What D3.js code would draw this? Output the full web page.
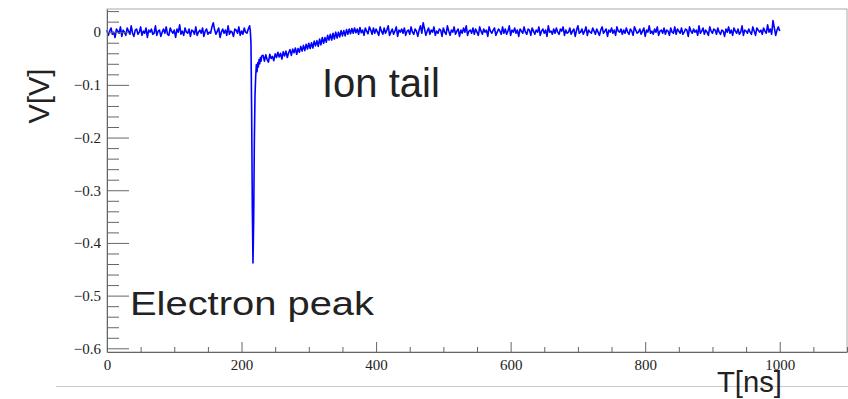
<!DOCTYPE html>
<html>
<head>
  <meta charset="UTF-8">
  <style>
    body { margin: 0; background: #fff; }
    svg { display: block; }
    .note { font-family: "Liberation Sans", Arial, sans-serif; fill: #222; }
  </style>
</head>
<body>
<svg id="chart"></svg>
<script src="https://cdnjs.cloudflare.com/ajax/libs/d3/7.8.5/d3.min.js"></script>
<script>
// signal samples, values in mV
// baseline before the pulse, one sample every 2 ns from t = 0
let preStep = 2;
let preV = [
  4,-6,2,8,-4,0,-10,6,2,-2,
  10,-8,4,0,-6,8,2,-4,12,-2,
  -8,4,6,-4,0,10,-6,2,-2,8,
  -10,4,0,6,-4,-2,12,-6,2,4,
  -8,0,6,-2,10,-4,-6,8,2,-2,
  4,-10,6,0,14,-4,2,-6,8,0,
  -2,6,-8,4,2,-4,10,-6,0,4,
  -2,8,-8,2,6,-4,0,-2,10,18,
  4,-4,2,8,-10,0,6,-2,4,-6,
  12,-4,2,0,-8,6,4,-2,10,-6,
  2,-4,8,0,-2,6,12
];

// electron peak, 1 ns samples
let pulseT = [213,214,215,216,217,218,219,220,221,222,223,224,225,226,227,228,229,230];
let pulseV = [3,-20,-150,-330,-438,-360,-210,-120,-85,-62,-75,-58,-66,-52,-60,-48,-55,-45];

// ion tail and baseline after, every 2 ns from t = 232
let tailT0 = 232, tailStep = 2;
let tailV = [
  -44,-55,-43,-52,-57,-42,-50,-46,-54,-41,
  -48,-38,-47,-40,-51,-37,-45,-36,-48,-39,
  -33,-44,-32,-39,-30,-42,-31,-38,-27,-36,
  -25,-35,-23,-32,-21,-31,-20,-30,-17,-26,
  -16,-27,-13,-24,-10,-21,-10,-19,-6,-15,
  -4,-15,-2,-13,0,-11,0,-9,3,-7,
  3,-7,5,-4,6,-3,7,-2,8,-1,
  6,-4,9,-1,4,-6,8,2,-3,10,
  4,-4,8,-2,6,0,-6,10,2,-4,
  8,-2,4,12,-6,0,6,-4,2,10,
  -8,4,0,6,-2,8,-6,2,4,-4,
  10,0,-4,6,2,-8,4,12,-2,18,
  6,-6,2,8,-4,4,0,10,-6,2,
  -2,6,4,-8,8,0,-4,12,2,-6,
  4,0,10,-4,2,6,-8,4,-2,8,
  0,12,-6,2,4,-2,8,-4,6,0,
  -6,10,2,-4,6,0,4,-8,10,2,
  -2,4,8,-6,0,6,2,-4,10,-2,
  6,-4,2,12,-6,4,0,8,-2,4,
  -8,6,2,-2,10,0,-4,6,4,-6,
  8,2,-4,4,0,10,-6,2,6,-2,
  4,-8,12,0,2,-4,6,-2,8,0,
  -4,6,2,10,-6,4,-2,0,8,-4,
  2,6,-8,4,12,-2,0,6,-4,2,
  10,-6,4,0,-2,8,2,-4,6,0,
  -6,4,10,-2,2,6,-8,4,0,8,
  -2,4,-6,10,2,0,6,-4,4,-2,
  8,0,-4,6,2,-6,10,4,-2,0,
  6,-4,2,8,-8,4,0,12,-2,2,
  -4,6,0,10,-6,2,4,-2,8,-4,
  4,2,-6,8,0,-2,10,-4,6,2,
  -2,8,-4,0,6,4,-8,10,2,-2,
  6,0,4,-6,12,-2,2,8,-4,4,
  0,-6,10,2,-2,6,4,-4,8,0,
  -4,4,2,-8,6,0,10,-2,4,-6,
  8,2,-2,6,-4,0,12,-6,4,2,
  -2,6,0,-4,10,2,-6,8,4,0,
  4,-4,8,2,-2,14,0,6,-4,22,
  8,-6,4,10,2
];

let xMajor = [0, 200, 400, 600, 800, 1000];
let yMajor = [0, -0.1, -0.2, -0.3, -0.4, -0.5, -0.6];

let width = 848, height = 399;
let svg = d3.select("#chart").attr("width", width).attr("height", height);

let plotL = 107, plotR = 847, plotT = 9, plotB = 352;
let x = d3.scaleLinear().domain([0, 1100]).range([plotL, plotR]);
let y = d3.scaleLinear().domain([-0.607, 0.044]).range([plotB, plotT]);

let points = [];
preV.forEach((v, i) => points.push({t: i * preStep, v: v / 1000}));
pulseT.forEach((t, i) => points.push({t: t, v: pulseV[i] / 1000}));
tailV.forEach((v, i) => points.push({t: tailT0 + i * tailStep, v: v / 1000}));

// frame
svg.append("rect")
    .attr("x", plotL).attr("y", plotT)
    .attr("width", plotR - plotL).attr("height", plotB - plotT)
    .attr("fill", "none").attr("stroke", "#aaa");

// grey rule under the plot
svg.append("line")
    .attr("x1", 56).attr("x2", 848).attr("y1", 386.5).attr("y2", 386.5)
    .attr("stroke", "#ccc");

let line = d3.line().x(d => x(d.t)).y(d => y(d.v));
svg.append("path")
    .datum(points)
    .attr("d", line)
    .attr("fill", "none")
    .attr("stroke", "#0000ff")
    .attr("stroke-width", 1.6)
    .attr("stroke-linejoin", "round");

let fmt = d => d === 0 ? "0" : d3.format(".1f")(d).replace("-", "\u2212");
let styleLabels = g => g.selectAll("text")
    .attr("font-family", "Liberation Serif, serif")
    .attr("font-size", 15)
    .attr("fill", "#222");

// x axis
let xMinor = d3.range(50, 1101, 50).filter(d => d % 200 !== 0);
svg.append("g")
    .attr("transform", `translate(0,${plotB})`)
    .call(d3.axisBottom(x).tickValues(xMinor).tickSize(-5).tickSizeOuter(0).tickFormat(""))
    .call(g => g.selectAll("line").attr("stroke", "#666"))
    .call(g => g.select(".domain").attr("stroke", "#666"));
svg.append("g")
    .attr("transform", `translate(0,${plotB})`)
    .call(d3.axisBottom(x).tickValues(xMajor).tickSize(-10).tickSizeOuter(0).tickPadding(7).tickFormat(d3.format("d")))
    .call(g => g.select(".domain").remove())
    .call(g => g.selectAll("line").attr("stroke", "#666"))
    .call(styleLabels);

// y axis
let yMinor = d3.range(-30, 3).map(d => d * 0.02).filter(d => Math.abs(Math.round(d * 100) % 10) !== 0);
svg.append("g")
    .attr("transform", `translate(${plotL},0)`)
    .call(d3.axisLeft(y).tickValues(yMinor).tickSize(-12).tickSizeOuter(0).tickFormat(""))
    .call(g => g.selectAll("line").attr("stroke", "#666"))
    .call(g => g.select(".domain").attr("stroke", "#666"));
svg.append("g")
    .attr("transform", `translate(${plotL},0)`)
    .call(d3.axisLeft(y).tickValues(yMajor).tickSize(-22).tickSizeOuter(0).tickPadding(6).tickFormat(fmt))
    .call(g => g.select(".domain").remove())
    .call(g => g.selectAll("line").attr("stroke", "#666"))
    .call(styleLabels);

// titles and notes
svg.append("text").attr("class", "note")
    .attr("transform", "translate(49,96) rotate(-90)")
    .attr("text-anchor", "middle")
    .attr("font-size", 29)
    .text("V[V]");

svg.append("text").attr("class", "note")
    .attr("x", 717).attr("y", 392)
    .attr("font-size", 30)
    .attr("textLength", 65).attr("lengthAdjust", "spacingAndGlyphs")
    .text("T[ns]");

svg.append("text").attr("class", "note")
    .attr("x", 322).attr("y", 97)
    .attr("font-size", 40)
    .text("Ion tail");

svg.append("text").attr("class", "note")
    .attr("x", 130).attr("y", 315)
    .attr("font-size", 34)
    .attr("textLength", 244).attr("lengthAdjust", "spacingAndGlyphs")
    .text("Electron peak");
</script>
</body>
</html>
